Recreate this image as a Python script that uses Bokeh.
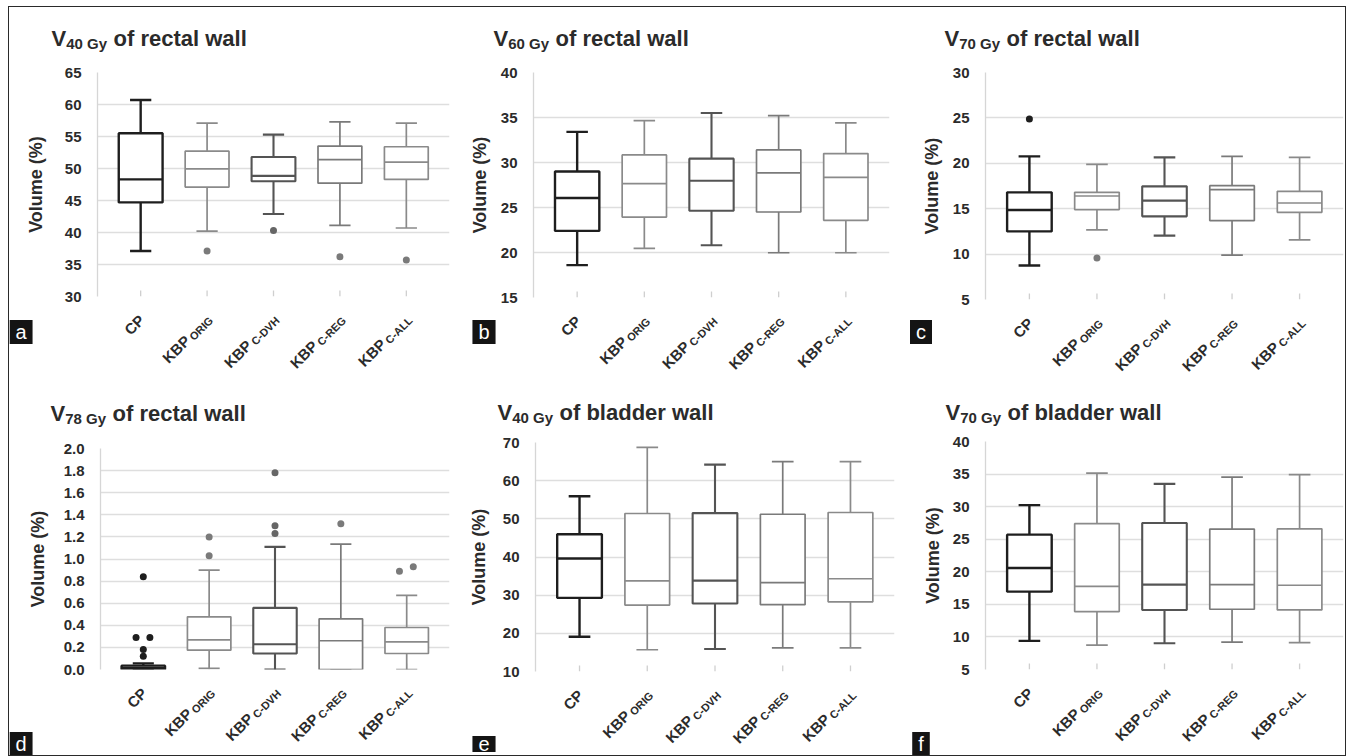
import math
from bokeh.plotting import figure
from bokeh.layouts import column, row
from bokeh.models import Label, FixedTicker, Range1d, NumeralTickFormatter, ColumnDataSource
from bokeh.embed import file_html
from bokeh.resources import INLINE

FONT = "Liberation Sans"

# ---------------- data ----------------
CAT_MAIN = ["CP", "KBP", "KBP", "KBP", "KBP"]
CAT_SUB = ["", "ORIG", "C-DVH", "C-REG", "C-ALL"]

# (a) V40Gy rectal wall
A_LO = [37.1, 40.2, 42.9, 41.1, 40.7]
A_Q1 = [44.7, 47.1, 48.0, 47.7, 48.3]
A_MED = [48.3, 49.95, 48.85, 51.4, 51.0]
A_Q3 = [55.5, 52.7, 51.8, 53.5, 53.4]
A_HI = [60.7, 57.1, 55.3, 57.3, 57.1]
A_OUT_CAT = [2, 3, 4, 5]
A_OUT_VAL = [37.1, 40.3, 36.2, 35.7]

# (b) V60Gy rectal wall
B_LO = [18.6, 20.45, 20.8, 19.97, 19.97]
B_Q1 = [22.4, 23.94, 24.64, 24.5, 23.57]
B_MED = [26.05, 27.65, 27.98, 28.84, 28.35]
B_Q3 = [29.0, 30.84, 30.43, 31.4, 30.99]
B_HI = [33.4, 34.66, 35.5, 35.2, 34.4]
B_OUT_CAT = []
B_OUT_VAL = []

# (c) V70Gy rectal wall
C_LO = [8.74, 12.66, 12.04, 9.88, 11.56]
C_Q1 = [12.5, 14.9, 14.16, 13.69, 14.6]
C_MED = [14.86, 16.4, 15.89, 17.1, 15.63]
C_Q3 = [16.8, 16.8, 17.46, 17.54, 16.91]
C_HI = [20.76, 19.88, 20.65, 20.76, 20.65]
C_OUT_CAT = [1, 2]
C_OUT_VAL = [24.87, 9.58]

# (d) V78Gy rectal wall
D_LO = [0.0, 0.01, 0.0, 0.0, 0.0]
D_Q1 = [0.0, 0.175, 0.145, 0.0, 0.145]
D_MED = [0.015, 0.268, 0.229, 0.26, 0.25]
D_Q3 = [0.035, 0.477, 0.558, 0.459, 0.38]
D_HI = [0.055, 0.90, 1.11, 1.134, 0.67]
D_OUT_CAT = [1, 1, 1, 1, 1, 2, 2, 3, 3, 3, 4, 5, 5]
D_OUT_VAL = [0.84, 0.29, 0.29, 0.18, 0.12, 1.20, 1.03, 1.78, 1.30, 1.23, 1.32, 0.89, 0.93]

# (e) V40Gy bladder wall
E_LO = [19.1, 15.7, 15.9, 16.2, 16.2]
E_Q1 = [29.3, 27.4, 27.8, 27.5, 28.25]
E_MED = [39.6, 33.75, 33.8, 33.3, 34.3]
E_Q3 = [45.98, 51.4, 51.5, 51.2, 51.66]
E_HI = [55.9, 68.7, 64.2, 65.0, 65.0]
E_OUT_CAT = []
E_OUT_VAL = []

# (f) V70Gy bladder wall
F_LO = [9.39, 8.73, 9.03, 9.19, 9.14]
F_Q1 = [16.95, 13.89, 14.14, 14.25, 14.14]
F_MED = [20.58, 17.77, 18.03, 18.03, 17.93]
F_Q3 = [25.7, 27.38, 27.48, 26.56, 26.6]
F_HI = [30.24, 35.15, 33.5, 34.53, 34.9]
F_OUT_CAT = []
F_OUT_VAL = []

TITLE_DOSE = ["40 Gy", "60 Gy", "70 Gy", "78 Gy", "40 Gy", "70 Gy"]
TITLE_REST = ["of rectal wall", "of rectal wall", "of rectal wall", "of rectal wall",
              "of bladder wall", "of bladder wall"]
PANEL_LETTERS = ["a", "b", "c", "d", "e", "f"]
Y_RANGES = [(30, 65, 5), (15, 40, 5), (5, 30, 5), (0, 2, 0.2), (10, 70, 10), (5, 40, 5)]
Y_FORMATS = ["0", "0", "0", "0.0", "0", "0"]

DATA = [
    (A_LO, A_Q1, A_MED, A_Q3, A_HI, A_OUT_CAT, A_OUT_VAL),
    (B_LO, B_Q1, B_MED, B_Q3, B_HI, B_OUT_CAT, B_OUT_VAL),
    (C_LO, C_Q1, C_MED, C_Q3, C_HI, C_OUT_CAT, C_OUT_VAL),
    (D_LO, D_Q1, D_MED, D_Q3, D_HI, D_OUT_CAT, D_OUT_VAL),
    (E_LO, E_Q1, E_MED, E_Q3, E_HI, E_OUT_CAT, E_OUT_VAL),
    (F_LO, F_Q1, F_MED, F_Q3, F_HI, F_OUT_CAT, F_OUT_VAL),
]

# ---------------- style / layout ----------------
SERIES_COLORS = ["#1e1e1e", "#8a8a8a", "#545454", "#7a7a7a", "#8a8a8a"]
SERIES_WIDTHS = [2.4, 1.7, 2.1, 1.7, 1.7]
OUTLIER_COLORS = ["#1e1e1e", "#7a7a7a", "#666666", "#7a7a7a", "#7a7a7a"]
TEXT_COLOR = "#2b2b2b"
GRID_COLOR = "#dedede"
BOX_W = 0.66
CAP_W = 0.32
X_LO, X_HI = 0.35, 5.65
PAD = 10  # px of plot canvas kept above/below the frame for the tick labels

ORIGIN = (9, 7)  # page position of the whole figure block
# page-coordinate cells: (col_left, col_right, row_top, row_bottom)
CELLS = [(9, 450, 7, 378), (450, 897, 7, 378), (897, 1345, 7, 378),
         (9, 450, 378, 755), (450, 897, 378, 755), (897, 1345, 378, 755)]
# page-coordinate plot frames: (left, width, top, height)
FRAMES = [(97, 352, 72, 224), (533, 356, 72, 225), (985, 358, 72, 227),
          (100, 349, 448, 221), (535, 359, 442, 229), (985, 358, 441, 228)]
TITLE_XY = [(51, 38), (493, 38), (944, 38), (50, 413), (497, 412), (945, 412)]
LETTER_XY = [(20.5, 331.5), (483.5, 331.5), (920.5, 331.5),
             (20.5, 743.5), (483.5, 743.5), (920.5, 743.5)]
AXIS_LABEL_STANDOFF = [16, 8, 8, 13, 11, 7]

CHAR_W = {"A": .722, "B": .722, "C": .722, "D": .722, "E": .667, "G": .778, "H": .722,
          "I": .278, "K": .722, "L": .611, "O": .778, "P": .667, "R": .722, "V": .667,
          "-": .333, " ": .278, "y": .556}


def text_width(s, size):
    return sum(CHAR_W.get(ch, 0.556) for ch in s) * size


ANGLE = math.radians(45)
MAIN_SIZE = 15
SUB_SIZE = 11
SUB_DROP = 3
SUB_GAP = 2.5
CP_ANCHOR = (1, 21)    # px right of tick, px below frame bottom
SUB_ANCHOR = (4, 22)


def blank_fig(w, h, xr, yr):
    f = figure(width=w, height=h, x_range=xr, y_range=yr, min_border=0,
               min_border_left=0, min_border_right=0, min_border_top=0, min_border_bottom=0,
               x_axis_location=None, y_axis_location=None, frame_align=False,
               output_backend="svg", toolbar_location=None, tools="")
    f.grid.visible = False
    f.outline_line_color = None
    f.background_fill_color = "white"
    f.border_fill_color = "white"
    return f


def make_panel(k):
    lo, q1, med, q3, hi, ocat, oval = DATA[k]
    cl, cr, rt, rb = CELLS[k]
    fl, fw, ft, fh = FRAMES[k]
    W = cr - cl
    y0, y1, step = Y_RANGES[k]
    xs = [1, 2, 3, 4, 5]

    # ---- title strip ----
    th = ft - rt - PAD
    tfig = blank_fig(W, th, Range1d(0, W), Range1d(0, th))
    tx, tyb = TITLE_XY[k]
    tx = tx - cl
    ty = (rt + th) - tyb
    tfig.add_layout(Label(x=tx, y=ty, x_units="screen", y_units="screen", text="V",
                          text_font=FONT, text_font_size="22px", text_font_style="bold",
                          text_color=TEXT_COLOR, text_baseline="alphabetic", text_align="left"))
    vw = text_width("V", 22)
    tfig.add_layout(Label(x=tx + vw, y=ty - 5, x_units="screen", y_units="screen",
                          text=TITLE_DOSE[k], text_font=FONT, text_font_size="15px",
                          text_font_style="bold", text_color=TEXT_COLOR,
                          text_baseline="alphabetic", text_align="left"))
    dw = text_width(TITLE_DOSE[k], 15)
    tfig.add_layout(Label(x=tx + vw + dw + 6.5, y=ty, x_units="screen", y_units="screen",
                          text=TITLE_REST[k], text_font=FONT, text_font_size="22px",
                          text_font_style="bold", text_color=TEXT_COLOR,
                          text_baseline="alphabetic", text_align="left"))

    # ---- plot ----
    bl = fl - cl
    br = W - bl - fw
    p = figure(frame_width=fw, frame_height=fh, min_border_left=bl, min_border_right=br,
               min_border_top=PAD, min_border_bottom=PAD,
               x_range=Range1d(X_LO, X_HI), y_range=Range1d(y0, y1),
               x_axis_location=None, frame_align=False,
               output_backend="svg", toolbar_location=None, tools="")
    p.background_fill_color = "white"
    p.border_fill_color = "white"
    p.outline_line_color = None

    n = int(round((y1 - y0) / step))
    ticks = [round(y0 + i * step, 4) for i in range(n + 1)]
    p.yaxis.ticker = FixedTicker(ticks=ticks)
    p.yaxis.formatter = NumeralTickFormatter(format=Y_FORMATS[k])
    p.yaxis.axis_label = "Volume (%)"
    p.yaxis.axis_label_text_font = FONT
    p.yaxis.axis_label_text_font_size = "18px"
    p.yaxis.axis_label_text_font_style = "bold"
    p.yaxis.axis_label_text_color = TEXT_COLOR
    p.yaxis.axis_label_standoff = AXIS_LABEL_STANDOFF[k]
    p.yaxis.major_label_text_font = FONT
    p.yaxis.major_label_text_font_size = "15px"
    p.yaxis.major_label_text_font_style = "bold"
    p.yaxis.major_label_text_color = TEXT_COLOR
    p.yaxis.major_label_standoff = 10
    p.yaxis.major_tick_line_color = None
    p.yaxis.minor_tick_line_color = None
    p.yaxis.axis_line_color = "#d6d6d6"
    p.yaxis.axis_line_width = 1.3

    p.xgrid.grid_line_color = None
    p.ygrid.ticker = FixedTicker(ticks=ticks)
    p.ygrid.grid_line_color = GRID_COLOR
    p.ygrid.grid_line_width = 1.3

    # category tick marks (inside, at the category axis)
    tick_len = 6 * (y1 - y0) / fh
    p.segment(x0=xs, y0=[y0] * 5, x1=xs, y1=[y0 + tick_len] * 5,
              line_color="#cfcfcf", line_width=1.3)

    src = ColumnDataSource(dict(
        x=xs, lo=lo, q1=q1, med=med, q3=q3, hi=hi,
        bl=[x - BOX_W / 2 for x in xs], br=[x + BOX_W / 2 for x in xs],
        cl=[x - CAP_W / 2 for x in xs], cr=[x + CAP_W / 2 for x in xs],
        color=SERIES_COLORS, lw=SERIES_WIDTHS,
    ))
    p.segment(x0="x", y0="q3", x1="x", y1="hi", source=src, line_color="color", line_width="lw")
    p.segment(x0="x", y0="q1", x1="x", y1="lo", source=src, line_color="color", line_width="lw")
    p.segment(x0="cl", y0="hi", x1="cr", y1="hi", source=src, line_color="color", line_width="lw")
    p.segment(x0="cl", y0="lo", x1="cr", y1="lo", source=src, line_color="color", line_width="lw")
    p.vbar(x="x", width=BOX_W, bottom="q1", top="q3", source=src, fill_color="white",
           line_color="color", line_width="lw")
    p.segment(x0="bl", y0="med", x1="br", y1="med", source=src, line_color="color", line_width="lw")

    if ocat:
        span = y1 - y0
        ox = []
        for i, (c, v) in enumerate(zip(ocat, oval)):
            dx = 0.0
            for j, (c2, v2) in enumerate(zip(ocat, oval)):
                if j != i and c2 == c and abs(v2 - v) <= 0.025 * span:
                    dx = -0.11 if (v < v2 or (v == v2 and i < j)) else 0.1
            ox.append(c + dx)
        p.scatter(x=ox, y=oval, size=7, line_color=None,
                  fill_color=[OUTLIER_COLORS[c - 1] for c in ocat])

    # ---- bottom strip: rotated category labels + panel letter ----
    bh = rb - (ft + fh) - PAD
    upp = (X_HI - X_LO) / fw  # data units per pixel, same as the plot frame
    bx_range = Range1d(X_LO - bl * upp, X_LO + (W - bl) * upp)
    bfig = blank_fig(W, bh, bx_range, Range1d(0, bh))
    ca, sa = math.cos(ANGLE), math.sin(ANGLE)
    for i, x in enumerate(xs):
        main, sub = CAT_MAIN[i], CAT_SUB[i]
        if not sub:
            bfig.add_layout(Label(x=x, y=bh - (CP_ANCHOR[1] - PAD), x_units="data",
                                  y_units="screen", x_offset=CP_ANCHOR[0], text=main,
                                  angle=ANGLE, text_align="right",
                                  text_baseline="alphabetic", text_font=FONT,
                                  text_font_size=f"{MAIN_SIZE}px", text_font_style="bold",
                                  text_color=TEXT_COLOR))
        else:
            ax, ay = SUB_ANCHOR[0], bh - (SUB_ANCHOR[1] - PAD)
            bfig.add_layout(Label(x=x, y=ay, x_units="data", y_units="screen", x_offset=ax,
                                  text=sub, angle=ANGLE, text_align="right",
                                  text_baseline="alphabetic", text_font=FONT,
                                  text_font_size=f"{SUB_SIZE}px", text_font_style="bold",
                                  text_color=TEXT_COLOR))
            w = text_width(sub, SUB_SIZE) + SUB_GAP
            mx = ax - w * ca - SUB_DROP * sa
            my = ay - w * sa + SUB_DROP * ca
            bfig.add_layout(Label(x=x, y=my, x_units="data", y_units="screen", x_offset=mx,
                                  text=main, angle=ANGLE, text_align="right",
                                  text_baseline="alphabetic", text_font=FONT,
                                  text_font_size=f"{MAIN_SIZE}px", text_font_style="bold",
                                  text_color=TEXT_COLOR))
    lx, ly = LETTER_XY[k]
    bfig.add_layout(Label(x=lx - cl, y=rb - ly, x_units="screen", y_units="screen",
                          text=PANEL_LETTERS[k], text_font=FONT, text_font_size="20px",
                          text_color="white", text_align="center", text_baseline="middle",
                          background_fill_color="#141414", padding=(6, 1)))

    return column(tfig, p, bfig, spacing=0)


panels = [make_panel(k) for k in range(6)]
layout = column(row(*panels[0:3], spacing=0), row(*panels[3:6], spacing=0), spacing=0,
                margin=(ORIGIN[1], 0, 0, ORIGIN[0]),
                styles={"outline": "1.5px solid #2a2a2a"})

open("out.html", "w").write(file_html(layout, INLINE))
